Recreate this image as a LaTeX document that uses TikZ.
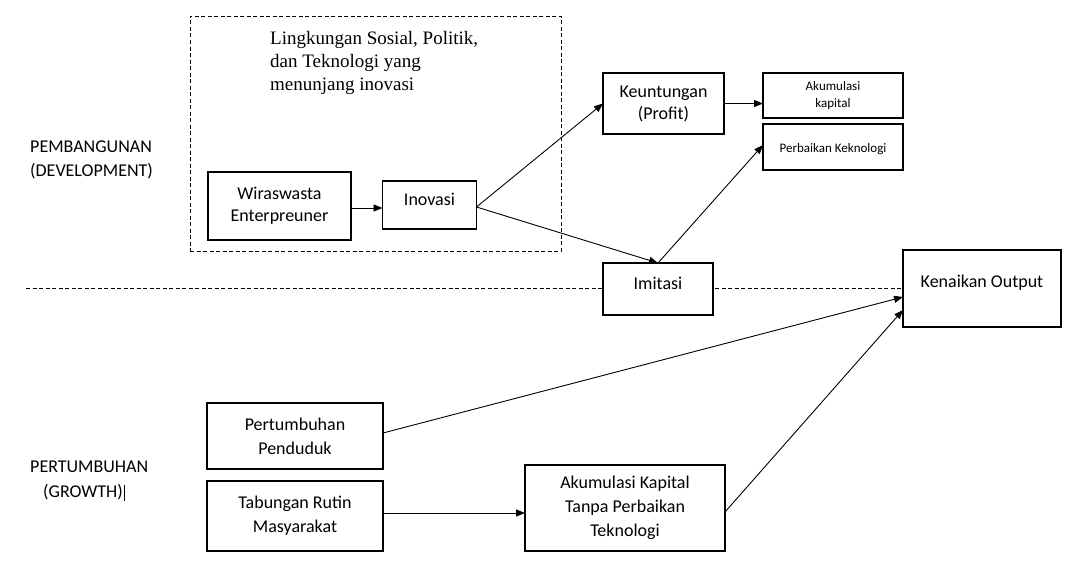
\documentclass[tikz,border=0pt]{standalone}
\usepackage{fontspec}
\setmainfont{Carlito}
\newfontfamily\camb{Liberation Serif}
\usetikzlibrary{arrows.meta}
\begin{document}
\begin{tikzpicture}[x=1pt,y=-1pt,
  box/.style={draw, line width=1.7pt, fill=white, inner sep=0pt, outer sep=0pt},
  txt/.style={inner sep=0pt, align=center, font=\fontsize{18}{23}\selectfont},
  smalltxt/.style={inner sep=0pt, align=center, font=\fontsize{13}{17}\selectfont},
  sidetxt/.style={inner sep=0pt, anchor=base west, font=\fontsize{18}{23}\selectfont},
  arr/.style={line width=0.9pt, -{Triangle[length=9pt,width=7pt]}},
  dashline/.style={line width=0.9pt, dash pattern=on 4pt off 2.5pt}
]
\fill[white] (0,0) rectangle (1087,573);
\useasboundingbox (0,0) rectangle (1087,573);

% dashed environment box
\node[draw, dashline, minimum width=371pt, minimum height=235pt, inner sep=0pt] (env) at (375.5,133.5) {};
\node[inner sep=0pt, anchor=north west, align=left, font=\camb\fontsize{19}{23}\selectfont] (envT) at (270,31)
  {Lingkungan Sosial, Politik,\\dan Teknologi yang\\menunjang inovasi};

% horizontal divider
\coordinate (divL) at (26,288);
\coordinate (divR) at (903,288);
\draw[dashline] (divL) -- (divR);

% side labels
\node[sidetxt] (pem1) at (30,152) {PEMBANGUNAN};
\node[sidetxt] (pem2) at (30,176) {(DEVELOPMENT)};
\node[sidetxt] (per1) at (30,472) {PERTUMBUHAN};
\node[sidetxt] (per2) at (43,497) {(GROWTH)};
\coordinate (curT) at (124,485);
\coordinate (curB) at (124,501);
\draw[line width=0.6pt] (curT) -- (curB);

% boxes
\node[box, minimum width=143pt, minimum height=68pt] (wira) at (279.5,206) {};
\node[txt, font=\fontsize{18}{22}\selectfont] (wiraT) at (wira.center) {Wiraswasta\\Enterpreuner};

\node[box, minimum width=94pt, minimum height=48pt] (inov) at (429.5,205) {};
\node[txt, anchor=base] (inovT) at (429.5,205) {Inovasi};

\node[box, minimum width=121pt, minimum height=61pt] (keun) at (663.5,103.5) {};
\node[txt, font=\fontsize{18}{22}\selectfont] (keunT) at (keun.center) {Keuntungan\\(Profit)};

\node[box, minimum width=140pt, minimum height=45pt] (akum) at (833,95.5) {};
\node[smalltxt] (akumT) at (akum.center) {Akumulasi\\kapital};

\node[box, minimum width=140pt, minimum height=46pt] (perb) at (833,147) {};
\node[smalltxt, anchor=base] (perbT) at (833,152) {Perbaikan Keknologi};

\node[box, minimum width=110pt, minimum height=52pt] (imit) at (658,289) {};
\node[txt, anchor=base] (imitT) at (658,289) {Imitasi};

\node[box, minimum width=158pt, minimum height=77pt] (kena) at (982,288.5) {};
\node[txt, anchor=base] (kenaT) at (982,287) {Kenaikan Output};

\node[box, minimum width=176pt, minimum height=66pt] (pend) at (295,436) {};
\node[txt, font=\fontsize{18}{24}\selectfont] (pendT) at (pend.center) {Pertumbuhan\\Penduduk};

\node[box, minimum width=176pt, minimum height=70pt] (tabu) at (295,516) {};
\node[txt, font=\fontsize{18}{24}\selectfont] (tabuT) at (tabu.center) {Tabungan Rutin\\Masyarakat};

\node[box, minimum width=200pt, minimum height=86pt] (tanpa) at (625,508) {};
\node[txt, font=\fontsize{18}{24}\selectfont] (tanpaT) at (tanpa.center) {Akumulasi Kapital\\Tanpa Perbaikan\\Teknologi};

% connectors
\draw[arr] ([yshift=-2pt]wira.east) -- ([yshift=-2pt]wira.east -| inov.west);
\draw[arr] ([yshift=-2pt]inov.east) -- (keun.west);
\draw[arr] ([yshift=-2pt]inov.east) -- (imit.north);
\draw[arr] (imit.north) -- ([yshift=2pt]perb.west);
\draw[arr] (keun.east) -- (keun.east -| akum.west);
\draw[arr] ([yshift=3pt]pend.east) -- ([yshift=-8.5pt]kena.west);
\draw[arr] ([yshift=-4pt]tanpa.east) -- ([yshift=-21.5pt]kena.west);
\draw[arr] ([yshift=3pt]tabu.east) -- ([yshift=3pt]tabu.east -| tanpa.west);
\end{tikzpicture}
\end{document}
